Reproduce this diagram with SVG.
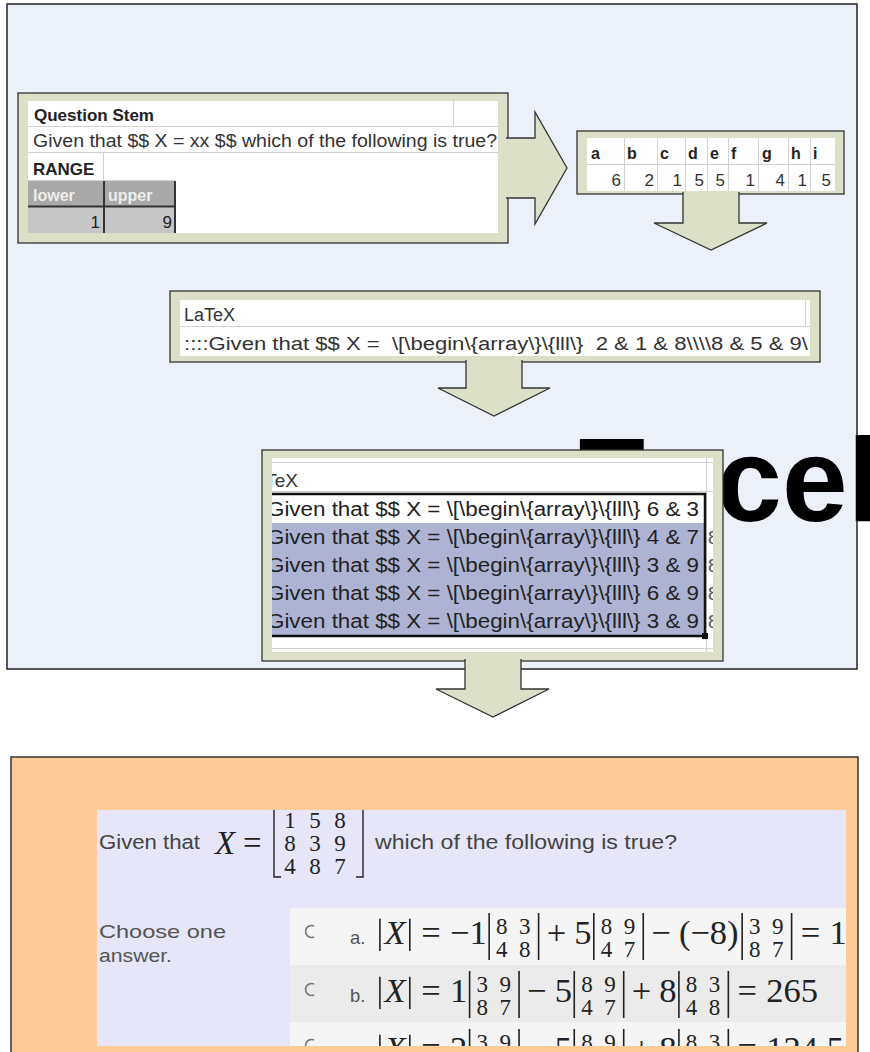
<svg xmlns="http://www.w3.org/2000/svg" width="870" height="1052" viewBox="0 0 870 1052">
<style>
.frame{fill:#DCE0C9;stroke:#333;stroke-width:1.3}
.arrow{fill:#DCE0C9;stroke:#333;stroke-width:1.3;stroke-linejoin:miter}
.grid{stroke:#D2D2D2;stroke-width:1;fill:none}
.dk{stroke:#333;stroke-width:2;fill:none}
.ss{font-family:"Liberation Sans",Arial,sans-serif;fill:#222}
.b{font-weight:bold}
.m{font-family:"Liberation Serif","Times New Roman",serif;fill:#222}
.mi{font-style:italic}
.bar{stroke:#222;stroke-width:1.4;fill:none}
.lab{font-family:"Liberation Sans",Arial,sans-serif;fill:#555}
.q{font-family:"Liberation Sans",Arial,sans-serif;fill:#444}
</style>
<defs>
<clipPath id="cB1"><rect x="28" y="101" width="470" height="132"/></clipPath>
<clipPath id="cB2"><rect x="587" y="138" width="248" height="53"/></clipPath>
<clipPath id="cB3"><rect x="180" y="300" width="630" height="56"/></clipPath>
<clipPath id="cB4"><rect x="272" y="458" width="441" height="194"/></clipPath>
<clipPath id="cQ"><rect x="97" y="810" width="749" height="236"/></clipPath>
</defs>

<g id="panel-top">
<rect x="7" y="4" width="850" height="665" fill="#ECF0F8" stroke="#222" stroke-width="1.5"/>
</g>
<g id="excel-label">
<text x="572" y="521" font-family="Liberation Sans, Arial, sans-serif" font-weight="bold" font-size="118" fill="#000">Excel</text>
</g>

<g id="box-question">
<rect class="frame" x="18" y="93" width="490" height="150"/>
<g clip-path="url(#cB1)">
<rect x="28" y="101" width="470" height="132" fill="#fff"/>
<path class="grid" d="M28,126.5H498M28,152.5H498M453.5,101V126M28,180.5H175M103.5,153V180"/>
<rect x="28" y="181" width="147" height="26" fill="#A8A8A8"/>
<rect x="28" y="207" width="147" height="26" fill="#C6C6C6"/>
<path class="dk" d="M28,206.5H175M104,181V233M175,181V233"/>
<text class="ss b" x="34" y="121" font-size="17">Question Stem</text>
<text class="ss" x="33" y="147" font-size="17.5" textLength="464" lengthAdjust="spacingAndGlyphs" style="fill:#333">Given that $$ X = xx $$ which of the following is true?</text>
<text class="ss b" x="33" y="175" font-size="17">RANGE</text>
<text class="ss b" x="33" y="201" font-size="16" style="fill:#EEEEEE">lower</text>
<text class="ss b" x="108" y="201" font-size="16" style="fill:#EEEEEE">upper</text>
<text class="ss" x="100" y="228" font-size="17" text-anchor="end">1</text>
<text class="ss" x="172" y="228" font-size="17" text-anchor="end">9</text>
</g>
</g>

<g id="box-values">
<rect class="frame" x="577" y="131" width="267" height="63"/>
<g clip-path="url(#cB2)">
<rect x="587" y="138" width="248" height="53" fill="#fff"/>
<path class="grid" d="M587,164.5H835M624.5,138V191M657.5,138V191M685.5,138V191M707.5,138V191M728.5,138V191M758.5,138V191M788.5,138V191M810.5,138V191"/>
<g class="ss b" font-size="16">
<text x="591" y="159">a</text><text x="627" y="159">b</text><text x="660" y="159">c</text><text x="688" y="159">d</text><text x="710" y="159">e</text><text x="731" y="159">f</text><text x="762" y="159">g</text><text x="791" y="159">h</text><text x="813" y="159">i</text>
</g>
<g class="ss" font-size="17" text-anchor="end" style="fill:#333">
<text x="621" y="186">6</text><text x="654" y="186">2</text><text x="682" y="186">1</text><text x="704" y="186">5</text><text x="725" y="186">5</text><text x="755" y="186">1</text><text x="785" y="186">4</text><text x="807" y="186">1</text><text x="831" y="186">5</text>
</g>
</g>
</g>

<g id="box-latex">
<rect class="frame" x="170" y="291" width="650" height="71"/>
<g clip-path="url(#cB3)">
<rect x="180" y="300" width="630" height="56" fill="#fff"/>
<path class="grid" d="M180,326.5H810M805.5,300V326"/>
<text class="ss" x="184" y="321" font-size="18" style="fill:#333">LaTeX</text>
<text class="ss" x="184" y="350" font-size="18" xml:space="preserve" textLength="624" lengthAdjust="spacingAndGlyphs" style="fill:#333">::::Given that $$ X =  \[\begin\{array\}\{lll\}  2 &amp; 1 &amp; 8\\\\8 &amp; 5 &amp; 9\</text>
</g>
</g>

<g id="box-rows">
<rect class="frame" x="262" y="450" width="461" height="211"/>
<g clip-path="url(#cB4)">
<rect x="272" y="458" width="441" height="194" fill="#fff"/>
<path class="grid" d="M272,462.5H713M272,491.5H713M706.5,458V652M272,648.5H713"/>
<text class="ss" x="244" y="487" font-size="19" style="fill:#333">LaTeX</text>
<rect x="266" y="523" width="439" height="113" fill="#AEB3D3"/>
<g class="ss" font-size="20" xml:space="preserve" style="fill:#222">
<text x="267" y="516" textLength="432" lengthAdjust="spacingAndGlyphs">Given that $$ X =  \[\begin\{array\}\{lll\}  6 &amp; 3</text>
<text x="267" y="544" textLength="432" lengthAdjust="spacingAndGlyphs">Given that $$ X =  \[\begin\{array\}\{lll\}  4 &amp; 7</text>
<text x="267" y="572" textLength="432" lengthAdjust="spacingAndGlyphs">Given that $$ X =  \[\begin\{array\}\{lll\}  3 &amp; 9</text>
<text x="267" y="600" textLength="432" lengthAdjust="spacingAndGlyphs">Given that $$ X =  \[\begin\{array\}\{lll\}  6 &amp; 9</text>
<text x="267" y="628" textLength="432" lengthAdjust="spacingAndGlyphs">Given that $$ X =  \[\begin\{array\}\{lll\}  3 &amp; 9</text>
</g>
<g class="ss" font-size="19" style="fill:#555">
<text x="708" y="544">8</text><text x="708" y="572">8</text><text x="708" y="600">8</text><text x="708" y="628">8</text>
</g>
<rect x="266" y="494" width="439" height="142" fill="none" stroke="#111" stroke-width="2.5"/>
<rect x="702" y="633" width="6" height="6" fill="#111"/>
</g>
</g>

<g id="panel-bottom">
<rect x="11" y="757" width="847" height="310" fill="#FFCC99" stroke="#333" stroke-width="1.5"/>
<g clip-path="url(#cQ)">
<rect x="97" y="810" width="749" height="236" fill="#E6E6F8"/>
<rect x="290" y="908" width="556" height="57" fill="#F5F5F5"/>
<rect x="290" y="965" width="556" height="57" fill="#EBEBEB"/>
<rect x="290" y="1022" width="556" height="30" fill="#F5F5F5"/>
<text class="q" x="99" y="849" font-size="20" textLength="101" lengthAdjust="spacingAndGlyphs">Given that</text>
<text class="m mi" x="215" y="854" font-size="33">X</text>
<text class="m" x="243" y="854" font-size="33">=</text>
<path class="bar" d="M281,808H274V877H281M356,808H363V877H356" stroke-width="1.8"/>
<g class="m" font-size="23" text-anchor="middle">
<text x="290" y="828">1</text><text x="315" y="828">5</text><text x="340" y="828">8</text>
<text x="290" y="851">8</text><text x="315" y="851">3</text><text x="340" y="851">9</text>
<text x="290" y="874">4</text><text x="315" y="874">8</text><text x="340" y="874">7</text>
</g>
<text class="q" x="375" y="849" font-size="20" textLength="302" lengthAdjust="spacingAndGlyphs">which of the following is true?</text>
<text class="q" x="99" y="938" font-size="19" textLength="127" lengthAdjust="spacingAndGlyphs" style="fill:#555">Choose one</text>
<text class="q" x="99" y="962" font-size="19" textLength="73" lengthAdjust="spacingAndGlyphs" style="fill:#555">answer.</text>
<path d="M314,926A6,6 0 1 0 314,937" fill="none" stroke="#777" stroke-width="1.6"/>
<path d="M314,984A6,6 0 1 0 314,995" fill="none" stroke="#777" stroke-width="1.6"/>
<path d="M314,1040A6,6 0 1 0 314,1051" fill="none" stroke="#777" stroke-width="1.6"/>

<g id="answer-a" transform="translate(350,944) scale(1.15)">
<text class="lab" x="0" y="0" font-size="16">a.</text>
<path class="bar" d="M26,-22V6M52,-22V6M121,-27V14M164,-27V14M212,-27V14M255,-27V14M341,-27V14M384,-27V14"/>
<g class="m" font-size="30">
<text class="mi" x="30" y="0">X</text>
<text x="62" y="0">=</text>
<text x="87" y="0">−1</text>
<text x="171" y="0">+</text><text x="195" y="0">5</text>
<text x="262" y="0">−</text><text x="286" y="0">(−8)</text>
<text x="392" y="0">=</text><text x="417" y="0">1</text>
</g>
<g class="m" font-size="20">
<text x="127" y="-9">8</text><text x="147" y="-9">3</text><text x="127" y="11">4</text><text x="147" y="11">8</text>
<text x="218" y="-9">8</text><text x="238" y="-9">9</text><text x="218" y="11">4</text><text x="238" y="11">7</text>
<text x="347" y="-9">3</text><text x="367" y="-9">9</text><text x="347" y="11">8</text><text x="367" y="11">7</text>
</g>
</g>

<g id="answer-b" transform="translate(350,1002) scale(1.15)">
<text class="lab" x="0" y="0" font-size="16">b.</text>
<path class="bar" d="M26,-22V6M52,-22V6M104,-27V14M147,-27V14M195,-27V14M238,-27V14M286,-27V14M329,-27V14"/>
<g class="m" font-size="30">
<text class="mi" x="30" y="0">X</text>
<text x="62" y="0">=</text>
<text x="87" y="0">1</text>
<text x="154" y="0">−</text><text x="178" y="0">5</text>
<text x="245" y="0">+</text><text x="269" y="0">8</text>
<text x="337" y="0">=</text><text x="362" y="0">265</text>
</g>
<g class="m" font-size="20">
<text x="110" y="-9">3</text><text x="130" y="-9">9</text><text x="110" y="11">8</text><text x="130" y="11">7</text>
<text x="201" y="-9">8</text><text x="221" y="-9">9</text><text x="201" y="11">4</text><text x="221" y="11">7</text>
<text x="292" y="-9">8</text><text x="312" y="-9">3</text><text x="292" y="11">4</text><text x="312" y="11">8</text>
</g>
</g>

<g id="answer-c" transform="translate(350,1060) scale(1.15)">
<text class="lab" x="0" y="0" font-size="16">c.</text>
<path class="bar" d="M26,-22V6M52,-22V6M104,-27V14M147,-27V14M195,-27V14M238,-27V14M286,-27V14M329,-27V14"/>
<g class="m" font-size="30">
<text class="mi" x="30" y="0">X</text>
<text x="62" y="0">=</text>
<text x="87" y="0">2</text>
<text x="154" y="0">−</text><text x="178" y="0">5</text>
<text x="245" y="0">+</text><text x="269" y="0">8</text>
<text x="337" y="0">=</text><text x="362" y="0">124.5</text>
</g>
<g class="m" font-size="20">
<text x="110" y="-9">3</text><text x="130" y="-9">9</text><text x="110" y="11">8</text><text x="130" y="11">7</text>
<text x="201" y="-9">8</text><text x="221" y="-9">9</text><text x="201" y="11">4</text><text x="221" y="11">7</text>
<text x="292" y="-9">8</text><text x="312" y="-9">3</text><text x="292" y="11">4</text><text x="312" y="11">8</text>
</g>
</g>
</g>
</g>

<g id="connectors">
<path class="arrow" d="M506,138H535V112L567,168L535,224V198H506"/>
<path class="arrow" d="M683,192V223H654L711,250L767,223H739V192"/>
<path class="arrow" d="M466,360V388H438L494,416L550,388H522V360"/>
<path class="arrow" d="M465,659V689H436L493,717L549,689H521V659"/>
</g>
</svg>
